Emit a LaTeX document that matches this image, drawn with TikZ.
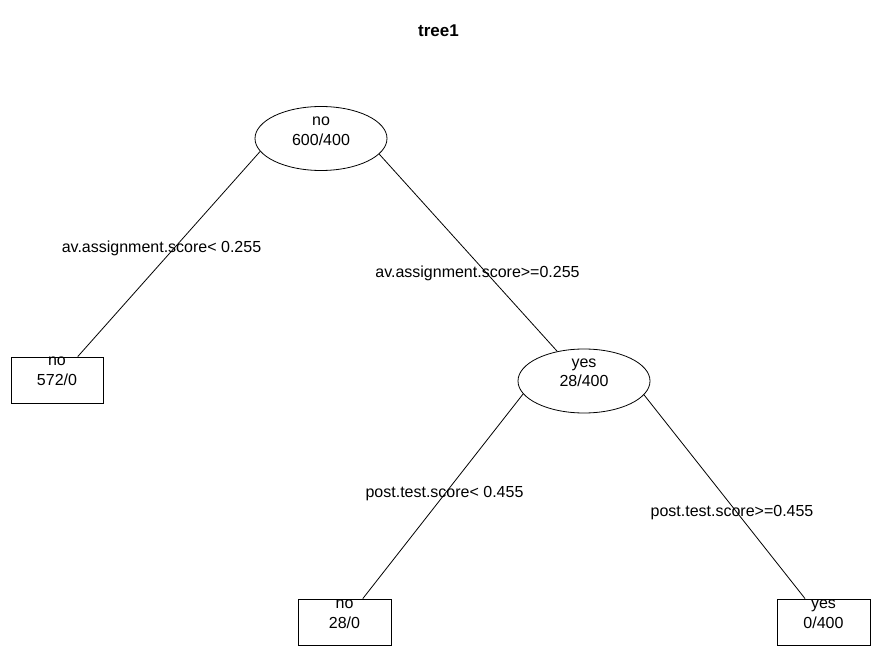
\documentclass[tikz,border=0pt]{standalone}
\usepackage{fontspec}
\setmainfont{Liberation Sans}
\usetikzlibrary{shapes.geometric}
\newcommand{\twolines}[2]{\vbox{\baselineskip=20pt\halign{\hfil##\hfil\cr#1\cr#2\cr}}}
\begin{document}
\begin{tikzpicture}[x=1pt,y=-1pt,
  every node/.style={font=\fontsize{16}{20}\selectfont, inner sep=0pt},
  split/.style={draw, ellipse, line width=0.8pt, minimum width=132pt, minimum height=64pt},
  leafbox/.style={draw, rectangle, line width=0.8pt, minimum width=92pt, minimum height=46pt},
  txt/.style={anchor=base},
  branch/.style={line width=0.8pt}]
\useasboundingbox (0,0) rectangle (892,660);
% title
\node[txt, font=\bfseries\fontsize{17}{20}\selectfont] (title) at (438.5,36.5) {tree1};
% shapes
\node[split] (root) at (321,138.5) {};
\node[split] (yes) at (584,381) {};
\node[leafbox] (leafA) at (57,380) {};
\node[leafbox, minimum width=93pt] (leafB) at (344.5,622) {};
\node[leafbox, minimum width=93pt] (leafC) at (823.5,622) {};
% node texts
\node[txt] (rootT) at (321,145.5) {\twolines{no}{600/400}};
\node[txt] (yesT) at (584,387) {\twolines{yes}{28/400}};
\node[txt] (leafAT) at (57,385.5) {\twolines{no}{572/0}};
\node[txt] (leafBT) at (344.5,628.5) {\twolines{no}{28/0}};
\node[txt] (leafCT) at (823.5,628.5) {\twolines{yes}{0/400}};
% branches
\draw[branch] (root.192.1) -- (leafA);
\draw[branch] (root.345.8) -- (yes);
\draw[branch] (yes.192.7) -- (leafB);
\draw[branch] (yes.347.3) -- (leafC);
% branch labels
\node[txt] (lab1) at (161.5,253) {av.assignment.score< 0.255};
\node[txt] (lab2) at (477.5,278) {av.assignment.score>=0.255};
\node[txt] (lab3) at (444.5,497) {post.test.score< 0.455};
\node[txt] (lab4) at (732,516.5) {post.test.score>=0.455};
\end{tikzpicture}
\end{document}
